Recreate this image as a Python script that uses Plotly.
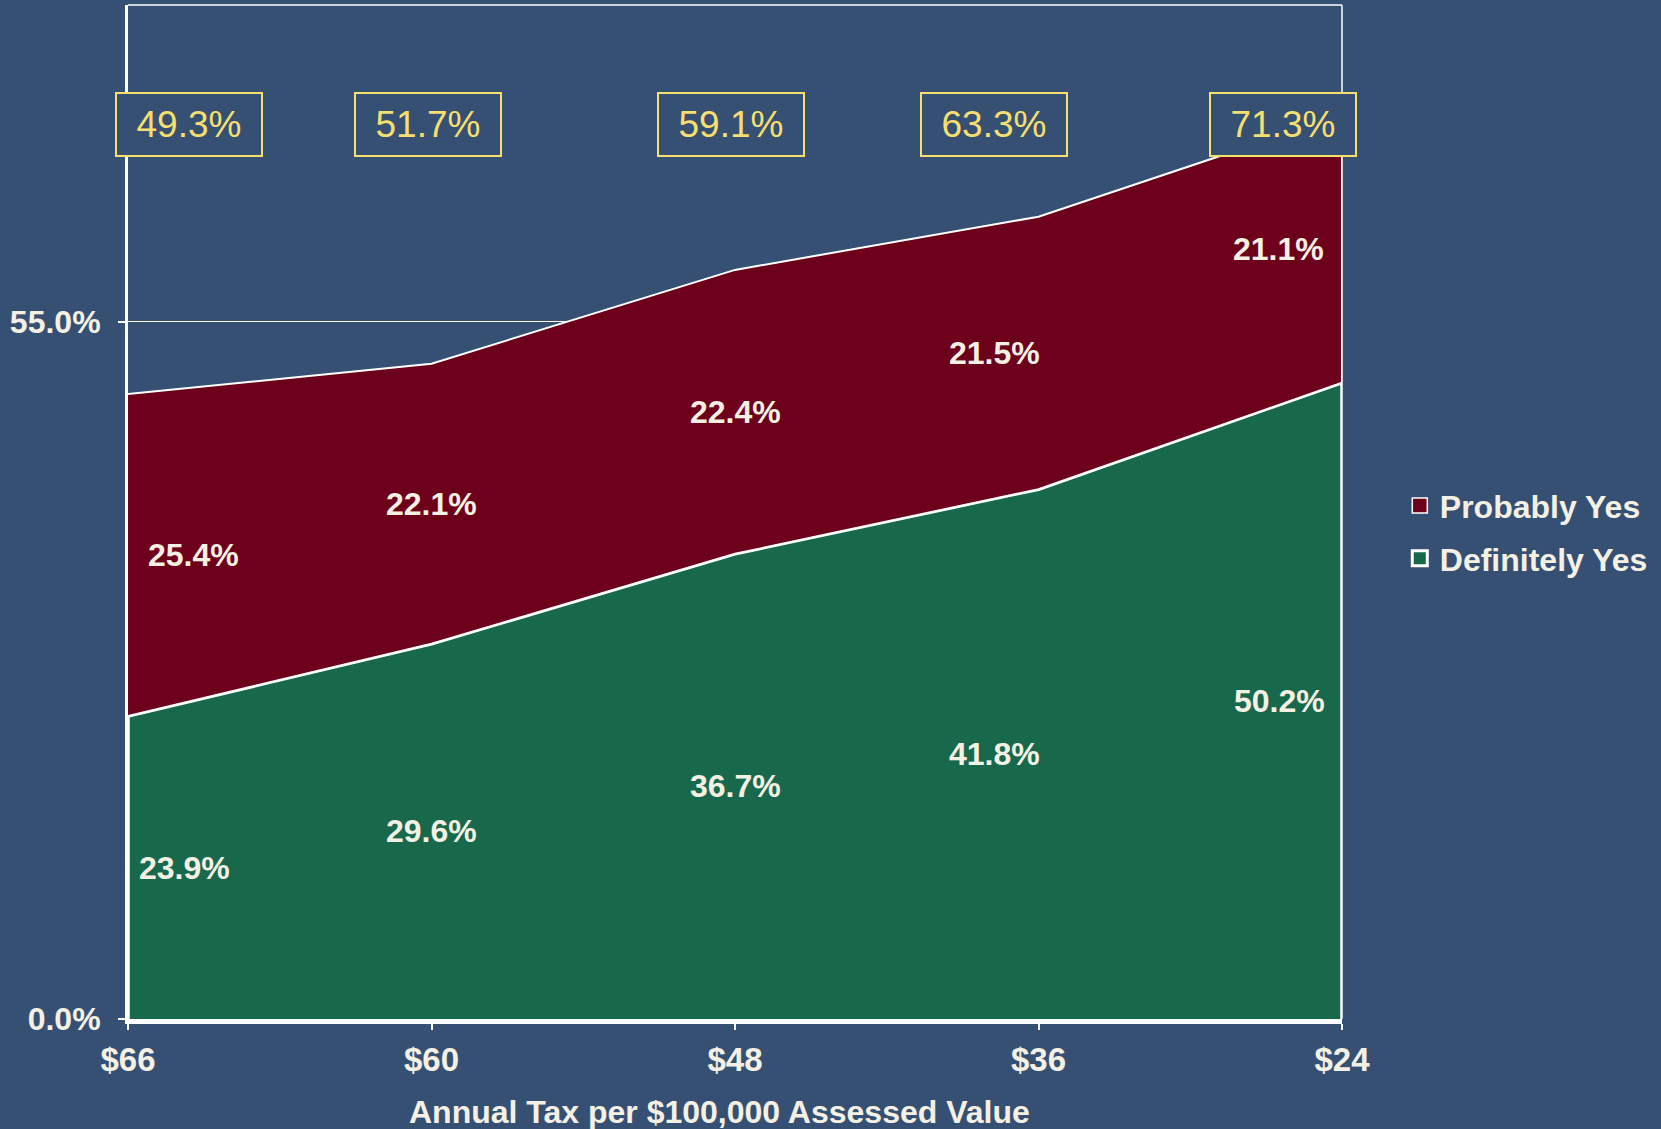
import plotly.graph_objects as go

categories = ["$66", "$60", "$48", "$36", "$24"]
definitely_yes = [23.9, 29.6, 36.7, 41.8, 50.2]
probably_yes = [25.4, 22.1, 22.4, 21.5, 21.1]
y_tick_vals = [0, 55]
y_tick_text = ["0.0%", "55.0%"]

# layout-only positions for labels (x position in category units)
green_label_x = [0.185, 1.0, 2.0, 2.855, 3.795]
red_label_x = [0.215, 1.0, 2.0, 2.855, 3.79]
box_x = [0.2, 0.99, 1.986, 2.855, 3.807]

BG = "#365074"
RED = "#6D001A"
GREEN = "#18684C"
CREAM = "#F4F1E4"
YELLOW = "#F7DF6F"
FONT = "Liberation Sans, Arial, sans-serif"

xs = list(range(len(categories)))
totals = [round(d + p, 1) for d, p in zip(definitely_yes, probably_yes)]

fig = go.Figure()

fig.add_trace(go.Scatter(
    x=[xs[0]] + xs + [xs[-1]],
    y=[0] + definitely_yes + [0],
    fill="toself", fillcolor=GREEN, mode="lines",
    line=dict(color="white", width=3.5), showlegend=False, hoverinfo="skip"))

fig.add_trace(go.Scatter(
    x=xs + xs[::-1],
    y=totals + definitely_yes[::-1],
    fill="toself", fillcolor=RED, mode="lines",
    line=dict(color="white", width=2), showlegend=False, hoverinfo="skip"))

fig.add_trace(go.Scatter(x=[None], y=[None], mode="markers", name="Probably Yes",
                         legendgroup="a",
                         marker=dict(symbol="square", size=15, color=RED,
                                     line=dict(color="white", width=1.5))))
fig.add_trace(go.Scatter(x=[None], y=[None], mode="markers", name="Definitely Yes",
                         legendgroup="b",
                         marker=dict(symbol="square", size=15, color=GREEN,
                                     line=dict(color="white", width=3))))

annotations = []
for i in range(len(categories)):
    annotations.append(dict(
        x=green_label_x[i], y=definitely_yes[i] / 2, xref="x", yref="y",
        xanchor="center", yanchor="middle",
        text=f"{definitely_yes[i]:.1f}%", showarrow=False,
        font=dict(family=FONT, size=32, color=CREAM, weight="bold")))
    annotations.append(dict(
        x=red_label_x[i], y=definitely_yes[i] + probably_yes[i] / 2, xref="x", yref="y",
        xanchor="center", yanchor="middle",
        text=f"{probably_yes[i]:.1f}%", showarrow=False,
        font=dict(family=FONT, size=32, color=CREAM, weight="bold")))
    annotations.append(dict(
        x=box_x[i], y=0.882, xref="x", yref="paper",
        xanchor="center", yanchor="middle",
        text=f"{totals[i]:.1f}%", showarrow=False,
        font=dict(family=FONT, size=37, color=YELLOW),
        bgcolor=BG, bordercolor=YELLOW, borderwidth=2, borderpad=2,
        width=140, height=57))

annotations.append(dict(
    x=0.487, y=-0.0916, xref="paper", yref="paper",
    text="Annual Tax per $100,000 Assessed Value", showarrow=False,
    xanchor="center", yanchor="middle",
    font=dict(family=FONT, size=32, color=CREAM, weight="bold")))

# thin frame on top and right
shapes = [
    dict(type="line", xref="paper", yref="paper", x0=0, x1=1, y0=1, y1=1,
         line=dict(color="white", width=1.5), layer="above"),
    dict(type="line", xref="paper", yref="paper", x0=1, x1=1, y0=0, y1=1,
         line=dict(color="white", width=1.5), layer="above"),
]

fig.update_layout(
    width=1661, height=1129,
    paper_bgcolor=BG, plot_bgcolor=BG,
    margin=dict(l=128, r=319, t=5, b=110),
    font=dict(family=FONT, color=CREAM),
    showlegend=True,
    legend=dict(x=1.0476, y=0.48, xanchor="left", yanchor="middle",
                font=dict(family=FONT, size=32, color=CREAM, weight="bold"),
                bgcolor="rgba(0,0,0,0)", tracegroupgap=8),
    annotations=annotations,
    shapes=shapes,
    xaxis=dict(range=[0, 4], tickvals=xs, ticktext=categories,
               showgrid=False, zeroline=False,
               showline=True, linecolor="white", linewidth=5,
               ticks="outside", ticklen=6, tickcolor="white", tickwidth=1.5,
               ticklabelstandoff=1,
               tickfont=dict(family=FONT, size=33, color=CREAM, weight="bold")),
    yaxis=dict(range=[0, 80], tickvals=y_tick_vals, ticktext=y_tick_text,
               showgrid=True, gridcolor="white", gridwidth=1, zeroline=False,
               showline=True, linecolor="white", linewidth=3,
               ticks="outside", ticklen=7, tickcolor="white", tickwidth=1.5,
               ticklabelstandoff=11,
               tickfont=dict(family=FONT, size=32, color=CREAM, weight="bold")),
)

fig.write_html("out.html", config={"displayModeBar": False},
               post_script="document.body.style.margin='0';document.body.style.overflow='hidden';")
